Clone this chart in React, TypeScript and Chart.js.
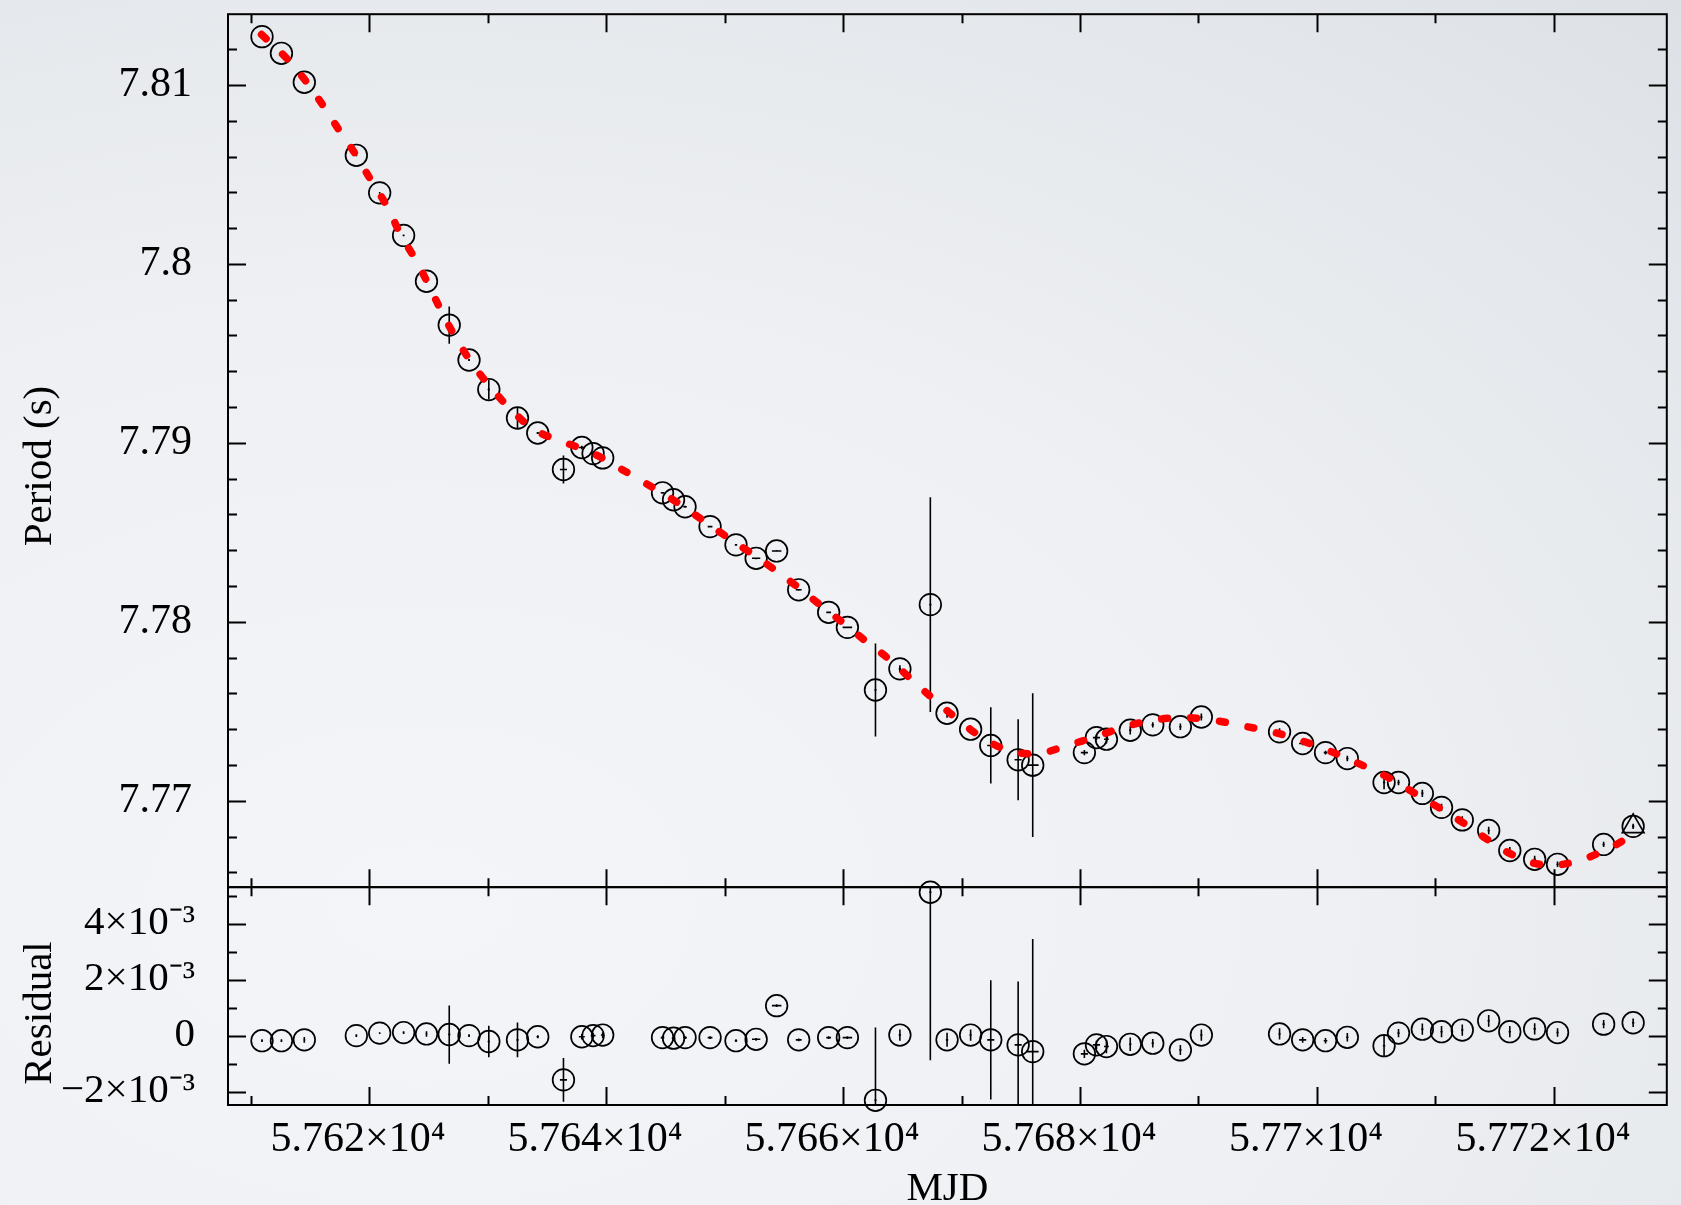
import React, { useEffect, useRef } from 'react';
import { Chart, registerables } from 'chart.js';

Chart.register(...registerables);

// ---------------- data ----------------
const mjd = [
  57610.97, 57612.61, 57614.54, 57618.93, 57620.90, 57622.92, 57624.85, 57626.77, 57628.44, 57630.11,
  57632.53, 57634.24, 57636.41, 57637.96, 57638.91, 57639.72, 57644.77, 57645.70, 57646.67, 57648.78,
  57650.97, 57652.67, 57654.40, 57656.26, 57658.79, 57660.37, 57662.74, 57664.80, 57667.37, 57668.78,
  57670.77, 57672.47, 57674.78, 57676.01, 57680.37, 57681.39, 57682.23, 57684.24, 57686.14, 57688.47,
  57690.24, 57696.84, 57698.79, 57700.72, 57702.56, 57705.66, 57706.88, 57708.89, 57710.51, 57712.26,
  57714.49, 57716.27, 57718.37, 57720.30, 57724.19, 57726.68,
];

const mjdErr = [
  0.08, 0.08, 0.08, 0.08, 0.05, 0.08, 0.08, 0.1, 0.08, 0.1,
  0.1, 0.1, 0.3, 0.25, 0.2, 0.15, 0.15, 0.15, 0.15, 0.2,
  0.1, 0.35, 0.4, 0.25, 0.2, 0.4, 0.1, 0.1, 0.1, 0.1,
  0.1, 0.3, 0.3, 0.5, 0.3, 0.3, 0.2, 0.1, 0.1, 0.1,
  0.1, 0.1, 0.3, 0.15, 0.1, 0.1, 0.1, 0.1, 0.1, 0.1,
  0.1, 0.1, 0.1, 0.1, 0.1, 0.1,
];

const period = [
  7.81270, 7.81177, 7.81015, 7.80607, 7.80397, 7.80159, 7.79903, 7.79658, 7.79463, 7.79298,
  7.79139, 7.79055, 7.78851, 7.78974, 7.78940, 7.78916, 7.78721, 7.78682, 7.78643, 7.78532,
  7.78430, 7.78355, 7.78396, 7.78179, 7.78053, 7.77969, 7.77619, 7.77737, 7.78096, 7.77489,
  7.77400, 7.77309, 7.77229, 7.77199, 7.77269, 7.77353, 7.77344, 7.77394, 7.77424, 7.77414,
  7.77468, 7.77385, 7.77320, 7.77269, 7.77236, 7.77102, 7.77102, 7.77041, 7.76963, 7.76893,
  7.76834, 7.76722, 7.76673, 7.76645, 7.76756, 7.76857,
];

const periodErr = [
  0.00005, 0.00005, 0.0001, 0.00005, 0.00003, 0.00005, 0.0001, 0.00104, 0.00005, 0.00056,
  0.00062, 0.00005, 0.00078, 0.0001, 0.0001, 0.0001, 0.00005, 0.0001, 0.00005, 0.00005,
  0.00005, 0.00005, 0.00005, 0.00005, 0.00005, 0.00005, 0.0026, 0.0002, 0.006, 0.00025,
  0.0002, 0.00213, 0.00226, 0.00402, 0.00015, 0.00015, 0.00024, 0.00024, 0.00015, 0.00018,
  0.0002, 0.0002, 0.0001, 0.0001, 0.00015, 0.00038, 0.00015, 0.0002, 0.0002, 0.0002,
  0.00021, 0.0002, 0.0002, 0.00015, 0.00015, 0.00015,
];

const residual = [
  -0.18e-3, -0.18e-3, -0.15e-3, 0.0, 0.09e-3, 0.11e-3, 0.06e-3, 0.04e-3, 0.0, -0.21e-3,
  -0.15e-3, -0.04e-3, -1.58e-3, -0.04e-3, 0.0, 0.02e-3, -0.07e-3, -0.09e-3, -0.07e-3, -0.07e-3,
  -0.18e-3, -0.13e-3, 1.07e-3, -0.15e-3, -0.07e-3, -0.07e-3, -2.31e-3, 0.02e-3, 5.12e-3, -0.15e-3,
  0.02e-3, -0.15e-3, -0.33e-3, -0.57e-3, -0.65e-3, -0.33e-3, -0.39e-3, -0.31e-3, -0.27e-3, -0.51e-3,
  0.02e-3, 0.06e-3, -0.15e-3, -0.18e-3, -0.06e-3, -0.36e-3, 0.09e-3, 0.23e-3, 0.14e-3, 0.20e-3,
  0.53e-3, 0.14e-3, 0.24e-3, 0.11e-3, 0.41e-3, 0.46e-3,
];

const modelMjd = [
  57610.93, 57612.87, 57614.64, 57616.08, 57617.46, 57618.88, 57620.16, 57621.54, 57622.66, 57623.94,
  57625.07, 57626.19, 57627.47, 57628.83, 57630.43, 57632.13, 57634.06, 57636.40, 57638.78, 57641.11,
  57643.26, 57645.50, 57647.53, 57649.68, 57651.76, 57653.85, 57655.87, 57657.87, 57659.95, 57661.94,
  57663.90, 57665.83, 57667.66, 57669.68, 57671.67, 57673.92, 57676.39, 57678.83, 57681.49, 57683.72,
  57686.14, 57688.69, 57691.24, 57693.76, 57696.25, 57698.73, 57701.03, 57703.40, 57705.73, 57707.90,
  57710.14, 57712.26, 57714.40, 57716.51, 57718.94, 57721.49, 57723.82, 57726.06, 57726.70,
];

const modelPeriod = [
  7.81282, 7.81161, 7.81024, 7.80889, 7.80749, 7.80610, 7.80468, 7.80319, 7.80165, 7.80022,
  7.79878, 7.79725, 7.79571, 7.79432, 7.79298, 7.79176, 7.79070, 7.79005, 7.78945, 7.78860,
  7.78777, 7.78689, 7.78597, 7.78498, 7.78405, 7.78309, 7.78210, 7.78105, 7.77997, 7.77891,
  7.77790, 7.77674, 7.77567, 7.77455, 7.77357, 7.77283, 7.77264, 7.77307, 7.77362, 7.77412,
  7.77450, 7.77464, 7.77450, 7.77418, 7.77385, 7.77335, 7.77279, 7.77211, 7.77140, 7.77056,
  7.76967, 7.76880, 7.76783, 7.76698, 7.76644, 7.76654, 7.76709, 7.76787, 7.76830,
];

const triangleIndex = 55;

const xTickValues = [57620, 57640, 57660, 57680, 57700, 57720];
const xTickLabels = ['5.762×10⁴', '5.764×10⁴', '5.766×10⁴', '5.768×10⁴', '5.77×10⁴', '5.772×10⁴'];
const periodTickValues = [7.77, 7.78, 7.79, 7.8, 7.81];
const periodTickLabels = ['7.77', '7.78', '7.79', '7.8', '7.81'];
const residualTickValues = [-0.002, 0, 0.002, 0.004];
const residualTickLabels = ['−2×10⁻³', '0', '2×10⁻³', '4×10⁻³'];

// axis ranges & tick steps
const X_MIN = 57608.1;
const X_MAX = 57729.52;
const P_MIN = 7.765172;
const P_MAX = 7.813954;
const R_MIN = -2.477e-3;
const R_MAX = 5.302e-3;
const X_MINOR = 10;
const X_MAJOR = 20;
const P_MINOR = 0.002;
const P_MAJOR = 0.01;
const R_MINOR = 0.001;
const R_MAJOR = 0.002;

const FONT = "'Liberation Serif', 'Times New Roman', serif";

function lookup(values: number[], labels: string[], v: number): string {
  for (let i = 0; i < values.length; i++) {
    if (Math.abs(values[i] - v) < 1e-9) return labels[i];
  }
  return '';
}

function tickList(min: number, max: number, step: number): number[] {
  const out: number[] = [];
  const start = Math.ceil(min / step - 1e-9);
  const end = Math.floor(max / step + 1e-9);
  for (let k = start; k <= end; k++) out.push(k * step);
  return out;
}

function isMultiple(v: number, step: number): boolean {
  const r = v / step;
  return Math.abs(r - Math.round(r)) < 1e-6;
}

function zeroPadding(s: any) {
  s.paddingTop = 0;
  s.paddingBottom = 0;
  s.paddingLeft = 0;
  s.paddingRight = 0;
}

const errorBarPlugin = {
  id: 'errorBars',
  beforeDatasetsDraw(chart: any) {
    const { ctx } = chart;
    const xs = chart.scales.x;
    const left = chart.chartArea.left;
    const right = chart.chartArea.right;
    const drawSet = (scale: any, vals: number[]) => {
      ctx.save();
      ctx.beginPath();
      ctx.rect(left, scale.top, right - left, scale.bottom - scale.top);
      ctx.clip();
      ctx.strokeStyle = '#000';
      ctx.lineWidth = 1.6;
      ctx.beginPath();
      for (let i = 0; i < mjd.length; i++) {
        const px = xs.getPixelForValue(mjd[i]);
        const py = scale.getPixelForValue(vals[i]);
        let y1 = scale.getPixelForValue(vals[i] + periodErr[i]);
        let y2 = scale.getPixelForValue(vals[i] - periodErr[i]);
        if (y2 - y1 < 1.5) { y1 = py - 0.75; y2 = py + 0.75; }
        ctx.moveTo(px, y1);
        ctx.lineTo(px, y2);
        ctx.moveTo(xs.getPixelForValue(mjd[i] - mjdErr[i]), py);
        ctx.lineTo(xs.getPixelForValue(mjd[i] + mjdErr[i]), py);
      }
      ctx.stroke();
      ctx.restore();
    };
    drawSet(chart.scales.y, period);
    drawSet(chart.scales.yr, residual);
  },
};

const framePlugin = {
  id: 'frame',
  afterDraw(chart: any) {
    const { ctx } = chart;
    const xs = chart.scales.x;
    const L = chart.chartArea.left;
    const R = chart.chartArea.right;
    const panels = [
      { s: chart.scales.y, min: P_MIN, max: P_MAX, minor: P_MINOR, major: P_MAJOR },
      { s: chart.scales.yr, min: R_MIN, max: R_MAX, minor: R_MINOR, major: R_MAJOR },
    ];
    const xMinorTicks = tickList(X_MIN, X_MAX, X_MINOR);
    ctx.save();
    ctx.strokeStyle = '#000';
    ctx.lineWidth = 2;
    ctx.lineCap = 'butt';
    for (const p of panels) {
      const T = p.s.top;
      const B = p.s.bottom;
      ctx.strokeRect(L, T, R - L, B - T);
      ctx.beginPath();
      for (const v of xMinorTicks) {
        const px = Math.round(xs.getPixelForValue(v)) + 0.5;
        const len = isMultiple(v, X_MAJOR) ? 18 : 9;
        ctx.moveTo(px, T);
        ctx.lineTo(px, T + len);
        ctx.moveTo(px, B);
        ctx.lineTo(px, B - len);
      }
      for (const v of tickList(p.min, p.max, p.minor)) {
        const py = Math.round(p.s.getPixelForValue(v)) + 0.5;
        const len = isMultiple(v, p.major) ? 18 : 9;
        ctx.moveTo(L, py);
        ctx.lineTo(L + len, py);
        ctx.moveTo(R, py);
        ctx.lineTo(R - len, py);
      }
      ctx.stroke();
    }
    // axis titles
    ctx.fillStyle = '#000';
    ctx.font = `41px ${FONT}`;
    ctx.textAlign = 'center';
    ctx.textBaseline = 'alphabetic';
    ctx.save();
    ctx.translate(51, 466);
    ctx.rotate(-Math.PI / 2);
    ctx.fillText('Period (s)', 0, 0);
    ctx.restore();
    ctx.save();
    ctx.translate(51, 1013);
    ctx.rotate(-Math.PI / 2);
    ctx.fillText('Residual', 0, 0);
    ctx.restore();
    ctx.fillText('MJD', (L + R) / 2, 1200);
    ctx.restore();
  },
};

export default function App() {
  const canvasRef = useRef<HTMLCanvasElement | null>(null);

  useEffect(() => {
    document.body.style.margin = '0';
    document.body.style.overflow = 'hidden';
    const canvas = canvasRef.current;
    if (!canvas) return;

    const periodPoints = mjd.map((x, i) => ({ x, y: period[i] }));
    const residualPoints = mjd.map((x, i) => ({ x, y: residual[i] }));
    const modelPoints = modelMjd.map((x, i) => ({ x, y: modelPeriod[i] }));

    const pointStyleBase = {
      pointStyle: 'circle',
      pointRadius: 10.8,
      pointHoverRadius: 10.8,
      pointBorderWidth: 1.7,
      borderColor: '#000',
      backgroundColor: 'rgba(0,0,0,0)',
      pointBackgroundColor: 'rgba(0,0,0,0)',
      pointBorderColor: '#000',
      showLine: false,
      clip: false as any,
    };

    const chart = new Chart(canvas, {
      type: 'scatter',
      data: {
        datasets: [
          {
            type: 'line',
            label: 'Model',
            data: modelPoints,
            yAxisID: 'y',
            borderColor: '#ff0000',
            borderWidth: 7.5,
            borderDash: [6, 23],
            borderCapStyle: 'round',
            pointRadius: 0,
            tension: 0.4,
            fill: false,
          } as any,
          {
            label: 'Period',
            data: periodPoints,
            yAxisID: 'y',
            ...pointStyleBase,
          } as any,
          {
            label: 'Period (triangle)',
            data: [periodPoints[triangleIndex]],
            yAxisID: 'y',
            ...pointStyleBase,
            pointStyle: 'triangle',
            pointRadius: 12.5,
            pointHoverRadius: 12.5,
          } as any,
          {
            label: 'Residual',
            data: residualPoints,
            yAxisID: 'yr',
            ...pointStyleBase,
          } as any,
        ],
      },
      options: {
        animation: false,
        responsive: false,
        events: [],
        layout: { padding: { left: 0, right: 5.4, top: 10.7, bottom: 0 } },
        plugins: {
          legend: { display: false },
          tooltip: { enabled: false },
        },
        scales: {
          x: {
            type: 'linear',
            position: 'bottom',
            min: X_MIN,
            max: X_MAX,
            grid: { display: false, drawTicks: false },
            border: { display: false },
            afterBuildTicks: (s: any) => {
              s.ticks = xTickValues.map((value) => ({ value }));
            },
            afterFit: (s: any) => {
              s.height = 100;
              zeroPadding(s);
            },
            ticks: {
              autoSkip: false,
              maxRotation: 0,
              minRotation: 0,
              padding: 10,
              labelOffset: -11,
              color: '#000',
              font: { family: FONT, size: 42 },
              callback: (v: any) => lookup(xTickValues, xTickLabels, Number(v)),
            },
          },
          y: {
            type: 'linear',
            position: 'left',
            stack: 'panels',
            stackWeight: 876,
            weight: 2,
            min: P_MIN,
            max: P_MAX,
            grid: { display: false, drawTicks: false },
            border: { display: false },
            afterBuildTicks: (s: any) => {
              s.ticks = periodTickValues.map((value) => ({ value }));
            },
            afterFit: (s: any) => {
              s.width = 228;
              zeroPadding(s);
            },
            ticks: {
              autoSkip: false,
              padding: 36,
              color: '#000',
              font: { family: FONT, size: 42 },
              callback: (v: any) => lookup(periodTickValues, periodTickLabels, Number(v)),
            },
          },
          yr: {
            type: 'linear',
            position: 'left',
            stack: 'panels',
            stackWeight: 218.6,
            weight: 1,
            min: R_MIN,
            max: R_MAX,
            grid: { display: false, drawTicks: false },
            border: { display: false },
            afterBuildTicks: (s: any) => {
              s.ticks = residualTickValues.map((value) => ({ value }));
            },
            afterFit: (s: any) => {
              s.width = 228;
              zeroPadding(s);
            },
            ticks: {
              autoSkip: false,
              padding: 33,
              color: '#000',
              font: { family: FONT, size: 41 },
              callback: (v: any) => lookup(residualTickValues, residualTickLabels, Number(v)),
            },
          },
        },
      } as any,
      plugins: [errorBarPlugin, framePlugin],
    });

    return () => {
      chart.destroy();
    };
  }, []);

  return (
    <div
      style={{
        width: 1681,
        height: 1205,
        position: 'relative',
        background:
          'radial-gradient(ellipse 120% 110% at 25% 75%, #f4f5f8 0%, #eef0f3 45%, #e4e7eb 75%, #dadee3 100%)',
      }}
    >
      <canvas ref={canvasRef} width={1681} height={1205} style={{ display: 'block', width: 1681, height: 1205 }} />
    </div>
  );
}
